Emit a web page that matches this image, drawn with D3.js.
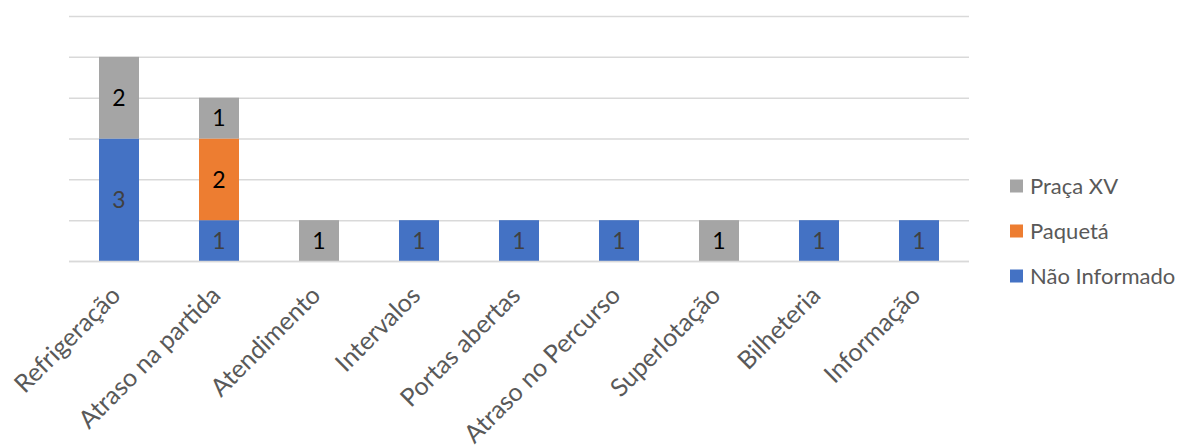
<!DOCTYPE html>
<html><head><meta charset="utf-8">
<script src="https://cdn.jsdelivr.net/npm/d3@7"></script>
<style>body{margin:0;background:#fff;}svg{display:block;font-family:Lato,"Open Sans",sans-serif;}</style>
</head><body><svg id="c" width="1178" height="448"></svg>
<script>
const categories = ["Refrigeração","Atraso na partida","Atendimento","Intervalos","Portas abertas","Atraso no Percurso","Superlotação","Bilheteria","Informação"];
const naoInformado = [3,1,0,1,1,1,0,1,1];
const paqueta = [0,2,0,0,0,0,0,0,0];
const pracaXV = [2,1,1,0,0,0,1,0,0];
const seriesNames = ["Não Informado","Paquetá","Praça XV"];
const seriesColors = ["#4472C4","#ED7D31","#A5A5A5"];
const labelColors = ["#404040","#000000","#000000"];
const yTicks = [0,1,2,3,4,5,6];

const svg = d3.select("#c");
const x = d3.scaleBand().domain(categories).range([69,969]).paddingInner(0.6).paddingOuter(0.3);
const y = d3.scaleLinear().domain([0,6]).range([261,16]);

svg.append("g").selectAll("line").data(yTicks).join("line")
  .attr("x1",69).attr("x2",969).attr("y1",d=>y(d)+0.5).attr("y2",d=>y(d)+0.5)
  .attr("stroke","#D9D9D9").attr("stroke-width",1.5);

const rows = categories.map((c,i)=>({cat:c,"Não Informado":naoInformado[i],"Paquetá":paqueta[i],"Praça XV":pracaXV[i]}));
const stacked = d3.stack().keys(seriesNames)(rows);

stacked.forEach((layer,si)=>{
  const g = svg.append("g");
  layer.forEach(seg=>{
    const v = seg[1]-seg[0];
    if(v<=0) return;
    g.append("rect").attr("x",x(seg.data.cat)).attr("width",x.bandwidth())
      .attr("y",y(seg[1])).attr("height",y(seg[0])-y(seg[1]))
      .attr("fill",seriesColors[si]);
    g.append("text").attr("x",x(seg.data.cat)+x.bandwidth()/2)
      .attr("y",(y(seg[0])+y(seg[1]))/2).attr("dy","0.36em")
      .attr("text-anchor","middle").attr("font-size",23)
      .attr("fill",labelColors[si]).text(v);
  });
});

svg.append("line").attr("x1",69).attr("x2",969).attr("y1",y(0)+0.5).attr("y2",y(0)+0.5)
  .attr("stroke","#D9D9D9").attr("stroke-width",1.5);

const xAxis = d3.axisBottom(x).tickSize(0).tickPadding(0);
const ax = svg.append("g").attr("transform","translate(0,261)").call(xAxis);
ax.select(".domain").remove();
ax.selectAll("text").attr("font-size",25).attr("fill","#595959")
  .attr("font-family","Lato, 'Open Sans', sans-serif")
  .attr("text-anchor","end").attr("dy",null).attr("y",0)
  .attr("transform","translate(3,36) rotate(-45)");

const legendItems = ["Praça XV","Paquetá","Não Informado"];
const legendColors = ["#A5A5A5","#ED7D31","#4472C4"];
const lg = svg.append("g");
legendItems.forEach((t,i)=>{
  const cy = 186 + i*45;
  lg.append("rect").attr("x",1010).attr("y",cy-6.5).attr("width",13).attr("height",13).attr("fill",legendColors[i]);
  lg.append("text").attr("x",1030).attr("y",cy).attr("dy","0.35em").attr("font-size",22).attr("fill","#595959").text(t);
});
</script></body></html>
